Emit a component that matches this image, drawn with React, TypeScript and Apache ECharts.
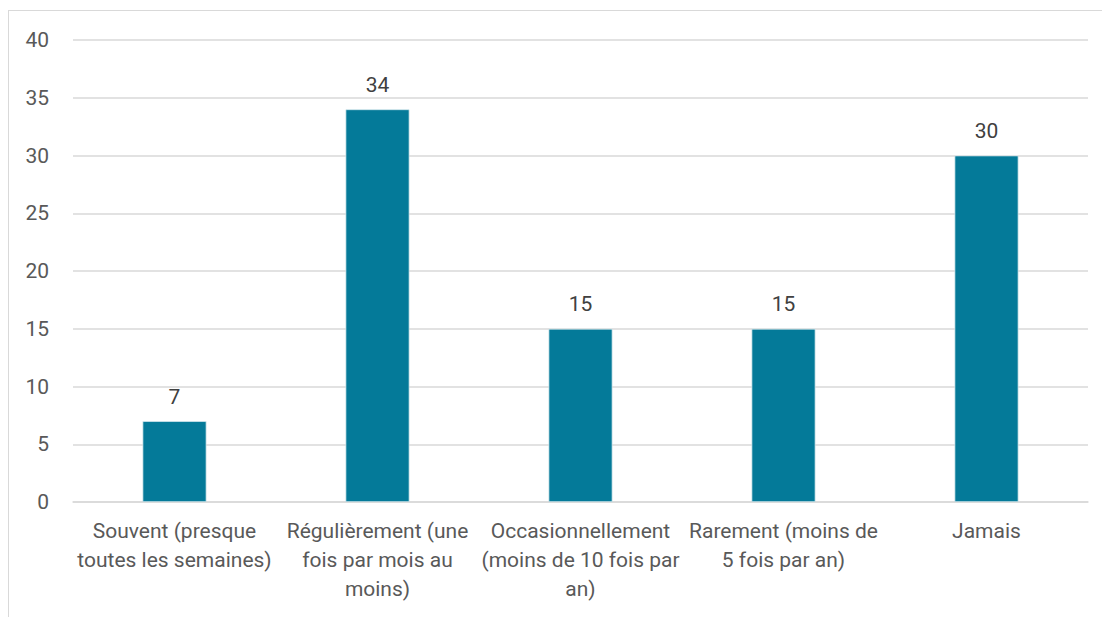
import React, { useEffect, useRef } from "react";
import * as echarts from "echarts";

const categories = [
  "Souvent (presque\ntoutes les semaines)",
  "Régulièrement (une\nfois par mois au\nmoins)",
  "Occasionnellement\n(moins de 10 fois par\nan)",
  "Rarement (moins de\n5 fois par an)",
  "Jamais",
];
const values = [7, 34, 15, 15, 30];
const yTicks = { min: 0, max: 40, interval: 5 };

const FONT = "Roboto, 'Noto Sans', sans-serif";

export default function App() {
  const ref = useRef<HTMLDivElement>(null);
  useEffect(() => {
    if (!ref.current) return;
    const chart = echarts.init(ref.current, null, { renderer: "svg" });
    chart.setOption({
      animation: false,
      backgroundColor: "#ffffff",
      textStyle: { fontFamily: FONT },
      grid: { left: 64, right: 15, top: 29, bottom: 115, containLabel: false },
      xAxis: {
        type: "category",
        data: categories,
        axisLine: { show: true, lineStyle: { color: "#d9d9d9", width: 1.5 } },
        axisTick: { show: false },
        axisLabel: {
          interval: 0,
          color: "#595959",
          fontSize: 21,
          lineHeight: 29,
          margin: 14,
          fontFamily: FONT,
        },
      },
      yAxis: {
        type: "value",
        min: yTicks.min,
        max: yTicks.max,
        interval: yTicks.interval,
        axisLine: { show: false },
        axisTick: { show: false },
        splitLine: { lineStyle: { color: "#d9d9d9", width: 1.5 } },
        axisLabel: { color: "#595959", fontSize: 21, margin: 24, fontFamily: FONT },
      },
      series: [
        {
          type: "bar",
          data: values,
          barWidth: "31.5%",
          itemStyle: { color: "#047a99", borderColor: "#d6e8ee", borderWidth: 0.75 },
          label: {
            show: true,
            position: "top",
            distance: 14,
            color: "#404040",
            fontSize: 21,
            fontFamily: FONT,
          },
        },
      ],
    });
    return () => chart.dispose();
  }, []);
  return (
    <div
      style={{
        position: "fixed",
        left: 0,
        top: 0,
        width: 1102,
        height: 617,
        background: "#ffffff",
      }}
    >
      <div
        style={{
          position: "absolute",
          left: 8,
          top: 10,
          right: 0,
          bottom: 0,
          borderLeft: "1.5px solid #d9d9d9",
          borderTop: "1.5px solid #d9d9d9",
        }}
      >
        <div ref={ref} style={{ position: "absolute", left: 0, top: 0, width: 1094, height: 606 }} />
      </div>
    </div>
  );
}
